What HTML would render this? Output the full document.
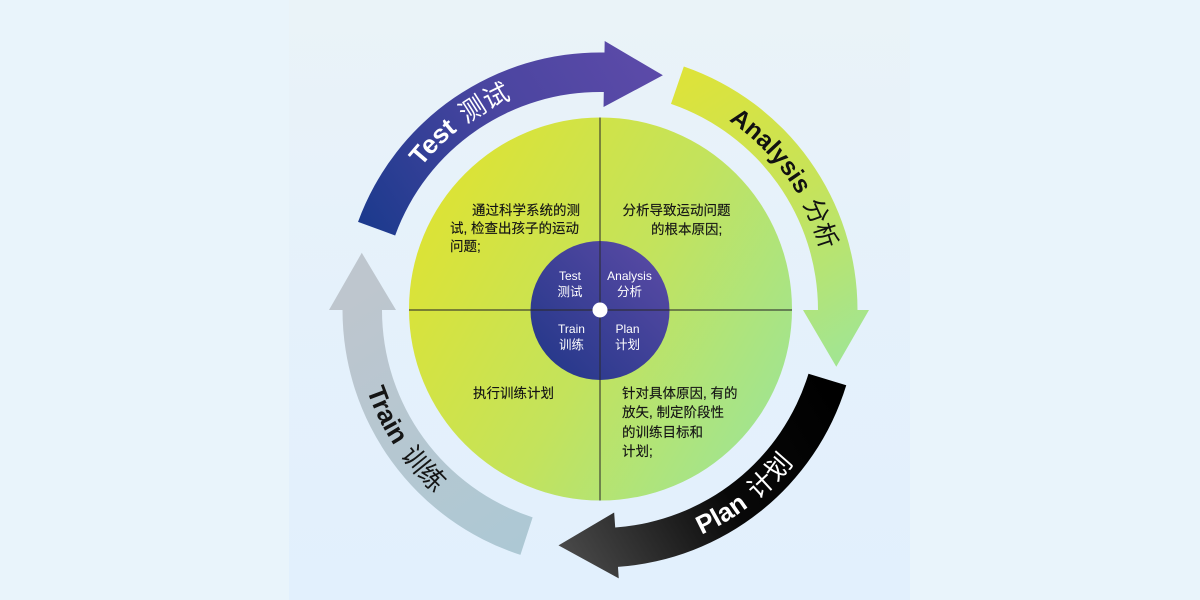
<!DOCTYPE html>
<html>
<head>
<meta charset="utf-8">
<style>
  html,body{margin:0;padding:0;}
  body{width:1200px;height:600px;position:relative;overflow:hidden;background:#e9f4fb;
       font-family:"Liberation Sans","Noto Sans CJK SC",sans-serif;}
  .panel{position:absolute;left:289px;top:0;width:621px;height:600px;
         background:linear-gradient(180deg,#eaf3f8 0%,#e5f1fb 50%,#e2f0fd 100%);}
  svg{position:absolute;left:0;top:0;}
  .q{position:absolute;font-size:13.5px;line-height:19px;color:#151515;white-space:nowrap;
     -webkit-text-stroke:0.15px #151515;
     font-family:"Liberation Sans","Noto Sans CJK SC",sans-serif;}
  .il{position:absolute;color:#fff;text-align:center;width:60px;
      font-family:"Liberation Sans","Noto Sans CJK SC",sans-serif;}
  .il .e{font-size:12px;line-height:15px;display:block;}
  .il .c{font-size:12.5px;line-height:16px;display:block;}
</style>
</head>
<body>
<div class="panel"></div>
<svg width="1200" height="600" viewBox="0 0 1200 600" xmlns="http://www.w3.org/2000/svg">
  <defs>
    <linearGradient id="gTest" gradientUnits="userSpaceOnUse" x1="370" y1="235" x2="640" y2="60">
      <stop offset="0" stop-color="#1c3a8d"/>
      <stop offset="0.55" stop-color="#4a45a0"/>
      <stop offset="1" stop-color="#5b4aa8"/>
    </linearGradient>
    <linearGradient id="gAna" gradientUnits="userSpaceOnUse" x1="680" y1="80" x2="845" y2="350">
      <stop offset="0" stop-color="#dde33a"/>
      <stop offset="0.5" stop-color="#c6e35a"/>
      <stop offset="1" stop-color="#a3e590"/>
    </linearGradient>
    <linearGradient id="gPlan" gradientUnits="userSpaceOnUse" x1="830" y1="390" x2="560" y2="550">
      <stop offset="0" stop-color="#000000"/>
      <stop offset="0.45" stop-color="#080808"/>
      <stop offset="1" stop-color="#4a4a4a"/>
    </linearGradient>
    <linearGradient id="gTrain" gradientUnits="userSpaceOnUse" x1="525" y1="540" x2="360" y2="290">
      <stop offset="0" stop-color="#adc8d4"/>
      <stop offset="1" stop-color="#bec6ce"/>
    </linearGradient>
    <linearGradient id="gBig" gradientUnits="userSpaceOnUse" x1="430" y1="230" x2="780" y2="430">
      <stop offset="0" stop-color="#dbe337"/>
      <stop offset="0.5" stop-color="#c3e35c"/>
      <stop offset="1" stop-color="#9fe493"/>
    </linearGradient>
    <linearGradient id="gIn" gradientUnits="userSpaceOnUse" x1="545" y1="370" x2="665" y2="250">
      <stop offset="0" stop-color="#25388a"/>
      <stop offset="1" stop-color="#5a4aa5"/>
    </linearGradient>
    <path id="pTest" d="M 373.23 278.13 A 229 229 0 0 1 631.87 83.23"/>
    <path id="pAna" d="M 637.80 84.14 A 229 229 0 0 1 825.86 347.80"/>
    <path id="pPlan" d="M 569.96 554.66 A 246.5 246.5 0 0 0 844.66 340.04"/>
    <path id="pTrain" d="M 358.45 260.86 A 246.5 246.5 0 0 0 550.86 551.55"/>
  </defs>

  <!-- outer arrows -->
  <path fill="url(#gTest)" d="M 358.03 221.93 A 257.5 257.5 0 0 1 604.49 52.54 L 604.69 41.04 L 662.89 75.28 L 603.54 107.03 L 603.80 92.03 A 218 218 0 0 0 395.15 235.44 Z"/>
  <path fill="url(#gAna)" d="M 683.83 66.53 A 257.5 257.5 0 0 1 857.5 310 L 869 310 L 836.29 366.73 L 803 310 L 818 310 A 218 218 0 0 0 670.97 103.88 Z"/>
  <path fill="url(#gPlan)" d="M 846.25 385.29 A 257.5 257.5 0 0 1 617.96 566.87 L 618.76 578.34 L 558.50 545.37 L 614.16 512.51 L 615.21 527.47 A 218 218 0 0 0 808.47 373.74 Z"/>
  <path fill="url(#gTrain)" d="M 520.43 554.90 A 257.5 257.5 0 0 1 342.5 310 L 329 310 L 361.77 252.81 L 396 310 L 382 310 A 218 218 0 0 0 532.63 517.33 Z"/>

  <!-- arrow labels -->
  <text font-family="Liberation Sans, Noto Sans CJK SC, sans-serif" font-size="26" fill="#ffffff">
    <textPath href="#pTest" startOffset="50%" text-anchor="middle"><tspan font-weight="bold">Test</tspan><tspan font-family="Noto Sans CJK SC, sans-serif" font-weight="400" dx="5"> 测试</tspan></textPath>
  </text>
  <text font-family="Liberation Sans, Noto Sans CJK SC, sans-serif" font-size="25" fill="#111111">
    <textPath href="#pAna" startOffset="50%" text-anchor="middle"><tspan font-weight="bold">Analysis</tspan><tspan font-family="Noto Sans CJK SC, sans-serif" font-weight="400" dx="4"> 分析</tspan></textPath>
  </text>
  <text font-family="Liberation Sans, Noto Sans CJK SC, sans-serif" font-size="26" fill="#ffffff">
    <textPath href="#pPlan" startOffset="50%" text-anchor="middle"><tspan font-weight="bold">Plan</tspan><tspan font-family="Noto Sans CJK SC, sans-serif" font-weight="400" dx="5"> 计划</tspan></textPath>
  </text>
  <text font-family="Liberation Sans, Noto Sans CJK SC, sans-serif" font-size="26" fill="#151515">
    <textPath href="#pTrain" startOffset="50%" text-anchor="middle"><tspan font-weight="bold">Train</tspan><tspan font-family="Noto Sans CJK SC, sans-serif" font-weight="400" dx="5"> 训练</tspan></textPath>
  </text>

  <!-- big circle -->
  <circle cx="600.5" cy="309" r="191.5" fill="url(#gBig)"/>
  <!-- inner circle -->
  <circle cx="600" cy="310.5" r="69.5" fill="url(#gIn)"/>
  <!-- quadrant lines -->
  <line x1="600" y1="117.5" x2="600" y2="500.5" stroke="#2a2a2a" stroke-width="1.2" stroke-opacity="0.85"/>
  <line x1="409" y1="310" x2="792" y2="310" stroke="#2a2a2a" stroke-width="1.2" stroke-opacity="0.85"/>
  <!-- center dot -->
  <circle cx="600" cy="310" r="7.5" fill="#ffffff"/>
</svg>

<!-- quadrant texts -->
<div class="q" style="left:472px;top:200.5px;width:108px;overflow:hidden;">通过科学系统的测</div>
<div class="q" style="left:450px;top:218.5px;">试, 检查出孩子的运动</div>
<div class="q" style="left:450px;top:237px;">问题;</div>

<div class="q" style="left:622.5px;top:200.5px;">分析导致运动问题</div>
<div class="q" style="left:651px;top:219.5px;">的根本原因;</div>

<div class="q" style="left:473px;top:383.5px;">执行训练计划</div>

<div class="q" style="left:622px;top:383.5px;">针对具体原因, 有的</div>
<div class="q" style="left:622px;top:403px;">放矢, 制定阶段性</div>
<div class="q" style="left:622px;top:422.5px;">的训练目标和</div>
<div class="q" style="left:622px;top:442px;">计划;</div>

<!-- inner labels -->
<div class="il" style="left:540px;top:269px;"><span class="e">Test</span><span class="c">测试</span></div>
<div class="il" style="left:599.5px;top:269px;"><span class="e">Analysis</span><span class="c">分析</span></div>
<div class="il" style="left:541.5px;top:322px;"><span class="e">Train</span><span class="c">训练</span></div>
<div class="il" style="left:597.5px;top:322px;"><span class="e">Plan</span><span class="c">计划</span></div>
</body>
</html>
